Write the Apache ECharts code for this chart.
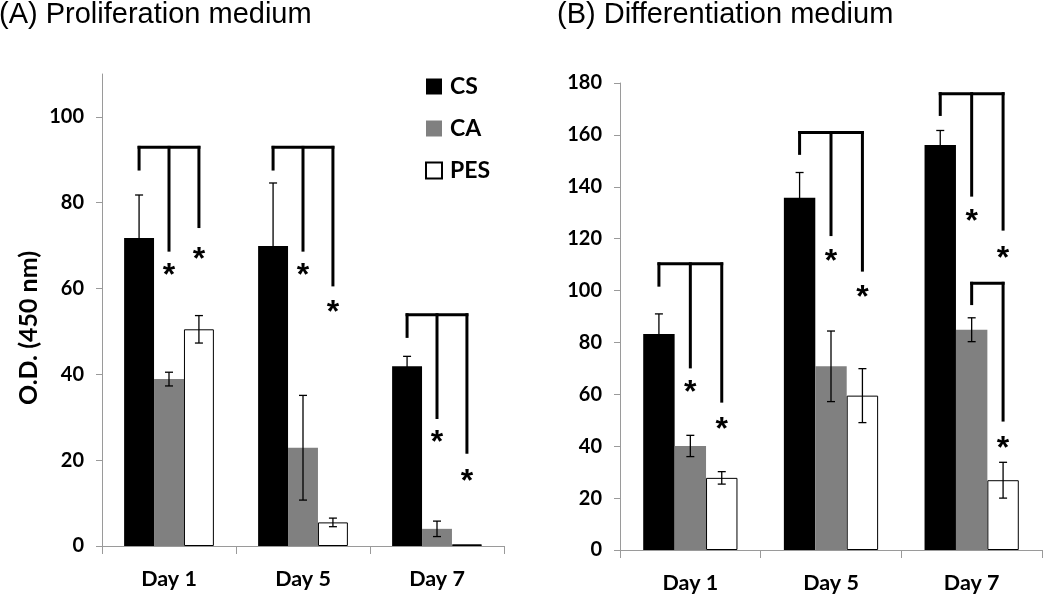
<!DOCTYPE html>
<html><head><meta charset="utf-8">
<script src="https://cdn.jsdelivr.net/npm/echarts@6/dist/echarts.min.js"></script>
<style>html,body{margin:0;padding:0;background:#fff}#c{width:1050px;height:596px}</style>
</head><body><div id="c"></div>
<script>
// ---- data ----
const days = ['Day 1', 'Day 5', 'Day 7'];
const seriesNames = ['CS', 'CA', 'PES'];
const yTicksA = [0, 20, 40, 60, 80, 100];
const yTicksB = [0, 20, 40, 60, 80, 100, 120, 140, 160, 180];

const profCS = [71.8, 69.9, 41.9];
const profCA = [38.9, 22.9, 4.0];
const profPES = [50.5, 5.5, 0.4];
const profCSErr = [10.0, 14.7, 2.3];
const profCAErr = [1.6, 12.2, 1.8];
const profPESErr = [3.2, 1.0, 0];

const diffCS = [83.3, 135.8, 156.1];
const diffCA = [40.1, 70.8, 84.9];
const diffPES = [27.8, 59.5, 26.9];
const diffCSErr = [7.7, 9.7, 5.6];
const diffCAErr = [4.1, 13.6, 4.6];
const diffPESErr = [2.4, 10.4, 6.9];

// significance brackets: [dayIndex, topValue, CS leg end, CA leg end, PES leg end]
const profBrackets = [
  [0, 92.9, 87.5, 68.6, 74.1],
  [1, 92.9, 87.5, 68.6, 60.5],
  [2, 53.9, 48.5, 29.6, 21.5]
];
const diffBrackets = [
  [0, 110.3, 101.5, 70.0, 56.8],
  [1, 160.9, 152.3, 121.0, 107.3],
  [2, 175.9, 167.3, 136.2, 123.1],
  [2, 102.8, null, 94.4, 49.5]
];
// asterisks: [dayIndex, barIndex, value]
const profStars = [[0, 1, 64.4], [0, 2, 68.3], [1, 1, 64.4], [1, 2, 55.8], [2, 1, 25.6], [2, 2, 16.6]];
const diffStars = [[0, 1, 63.2], [0, 2, 48.8], [1, 1, 113.7], [1, 2, 99.6], [2, 1, 129.1], [2, 2, 114.8], [2, 2, 41.5]];

// ---- chart ----
const CAT_GAP = 0.33;
const FONT = 'Lato';
const barColors = ['#000000', '#808080', '#ffffff'];

function barOffset(api, i) {
  const band = api.size([1, 0])[0];
  const bw = band * (1 - CAT_GAP) / 3;
  return (i - 1) * bw;
}

function errData(vals, errs) {
  const out = [];
  vals.forEach((arr, s) => arr.forEach((v, d) => out.push([d, s, v, errs[s][d]])));
  return out;
}

function errRender(params, api) {
  const d = api.value(0), s = api.value(1), v = api.value(2), e = api.value(3);
  if (!e) return null;
  const x = api.coord([d, v])[0] + barOffset(api, s);
  const yt = api.coord([d, v + e])[1];
  const yb = api.coord([d, v - e])[1];
  const cap = 4;
  const st = { stroke: '#000', lineWidth: 1.3 };
  return {
    type: 'group', children: [
      { type: 'line', shape: { x1: x, y1: yt, x2: x, y2: yb }, style: st },
      { type: 'line', shape: { x1: x - cap, y1: yt, x2: x + cap, y2: yt }, style: st },
      { type: 'line', shape: { x1: x - cap, y1: yb, x2: x + cap, y2: yb }, style: st }
    ]
  };
}

function bracketRender(params, api) {
  const d = api.value(0), top = api.value(1);
  const ends = [api.value(2), api.value(3), api.value(4)];
  const cx = api.coord([d, top])[0];
  const yTop = api.coord([d, top])[1];
  const st = { stroke: '#000', lineWidth: 3, lineCap: 'butt' };
  const children = [];
  const xs = [];
  ends.forEach((e, i) => {
    if (e === null || e === undefined || isNaN(e)) return;
    const x = cx + barOffset(api, i);
    xs.push(x);
    children.push({ type: 'line', shape: { x1: x, y1: yTop - 1.5, x2: x, y2: api.coord([d, e])[1] }, style: st });
  });
  children.push({ type: 'line', shape: { x1: Math.min(...xs) - 1.5, y1: yTop, x2: Math.max(...xs) + 1.5, y2: yTop }, style: st });
  return { type: 'group', children };
}

function starRender(params, api) {
  const d = api.value(0), b = api.value(1), v = api.value(2);
  const p = api.coord([d, v]);
  return {
    type: 'text',
    x: p[0] + barOffset(api, b), y: p[1] + 7,
    style: { text: '*', font: 'bold 32px "Liberation Sans"', fill: '#000', textAlign: 'center', textVerticalAlign: 'middle' }
  };
}

function yAxis(gi, max, ticks) {
  return {
    type: 'value', gridIndex: gi, min: 0, max: max, interval: 20,
    splitLine: { show: false },
    axisLine: { show: true, lineStyle: { color: '#9a9a9a', width: 1 } },
    axisTick: { show: true, length: 6, lineStyle: { color: '#9a9a9a' }, customValues: ticks },
    axisLabel: { customValues: ticks, margin: 18, color: '#000', fontFamily: FONT, fontWeight: 'bold', fontSize: 20 }
  };
}
function xAxis(gi) {
  return {
    type: 'category', gridIndex: gi, data: days, boundaryGap: true,
    axisLine: { show: true, lineStyle: { color: '#9a9a9a', width: 1 } },
    axisTick: { show: true, length: 8, alignWithLabel: false, lineStyle: { color: '#9a9a9a' } },
    axisLabel: { margin: 22, color: '#000', fontFamily: FONT, fontWeight: 'bold', fontSize: 21.5 }
  };
}

const profVals = [profCS, profCA, profPES];
const diffVals = [diffCS, diffCA, diffPES];
const series = [];
[profVals, diffVals].forEach((vals, gi) => {
  vals.forEach((arr, s) => {
    series.push({
      type: 'bar', name: seriesNames[s], xAxisIndex: gi, yAxisIndex: gi, data: arr,
      barGap: '0%', barCategoryGap: (CAT_GAP * 100) + '%',
      itemStyle: s === 2 ? { color: '#fff', borderColor: '#000', borderWidth: 1 } : { color: barColors[s] },
      emphasis: { disabled: true }, animation: false
    });
  });
});
series.push({ type: 'custom', name: 'errA', xAxisIndex: 0, yAxisIndex: 0, data: errData(profVals, [profCSErr, profCAErr, profPESErr]), renderItem: errRender, z: 10, encode: { x: 0, y: 2 }, animation: false });
series.push({ type: 'custom', name: 'errB', xAxisIndex: 1, yAxisIndex: 1, data: errData(diffVals, [diffCSErr, diffCAErr, diffPESErr]), renderItem: errRender, z: 10, encode: { x: 0, y: 2 }, animation: false });
series.push({ type: 'custom', name: 'brA', xAxisIndex: 0, yAxisIndex: 0, data: profBrackets, renderItem: bracketRender, z: 11, encode: { x: 0, y: 1 }, animation: false });
series.push({ type: 'custom', name: 'brB', xAxisIndex: 1, yAxisIndex: 1, data: diffBrackets.map(r => r.map(v => v === null ? NaN : v)), renderItem: bracketRender, z: 11, encode: { x: 0, y: 1 }, animation: false });
series.push({ type: 'custom', name: 'stA', xAxisIndex: 0, yAxisIndex: 0, data: profStars, renderItem: starRender, z: 12, encode: { x: 0, y: 2 }, animation: false });
series.push({ type: 'custom', name: 'stB', xAxisIndex: 1, yAxisIndex: 1, data: diffStars, renderItem: starRender, z: 12, encode: { x: 0, y: 2 }, animation: false });

const chart = echarts.init(document.getElementById('c'), null, { renderer: 'canvas' });
chart.setOption({
  backgroundColor: '#fff',
  animation: false,
  title: [
    { text: '(A) Proliferation medium', left: -1, top: 0, padding: 0, textStyle: { fontFamily: 'Liberation Sans', fontWeight: 'normal', fontSize: 29, color: '#000' } },
    { text: '(B) Differentiation medium', left: 557, top: 0, padding: 0, textStyle: { fontFamily: 'Liberation Sans', fontWeight: 'normal', fontSize: 29, color: '#000' } }
  ],
  legend: {
    data: seriesNames, orient: 'vertical', left: 425, top: 75, padding: 0,
    itemWidth: 16, itemHeight: 16, itemGap: 19, icon: 'rect',
    textStyle: { fontFamily: FONT, fontWeight: 'bold', fontSize: 23, color: '#000', lineHeight: 16, padding: [0, 0, 0, 3] },
    selectedMode: false
  },
  grid: [
    { left: 102, top: 74, width: 402, height: 472 },
    { left: 620, top: 83, width: 422, height: 467 }
  ],
  xAxis: [xAxis(0), xAxis(1)],
  yAxis: [yAxis(0, 110, yTicksA), yAxis(1, 180, yTicksB)],
  graphic: [
    { type: 'text', x: 29, y: 328, rotation: Math.PI / 2, style: { text: 'O.D. (450 nm)', font: 'bold 25px Lato', fill: '#000', textAlign: 'center', textVerticalAlign: 'middle' } }
  ],
  series: series
});
</script>
</body></html>
